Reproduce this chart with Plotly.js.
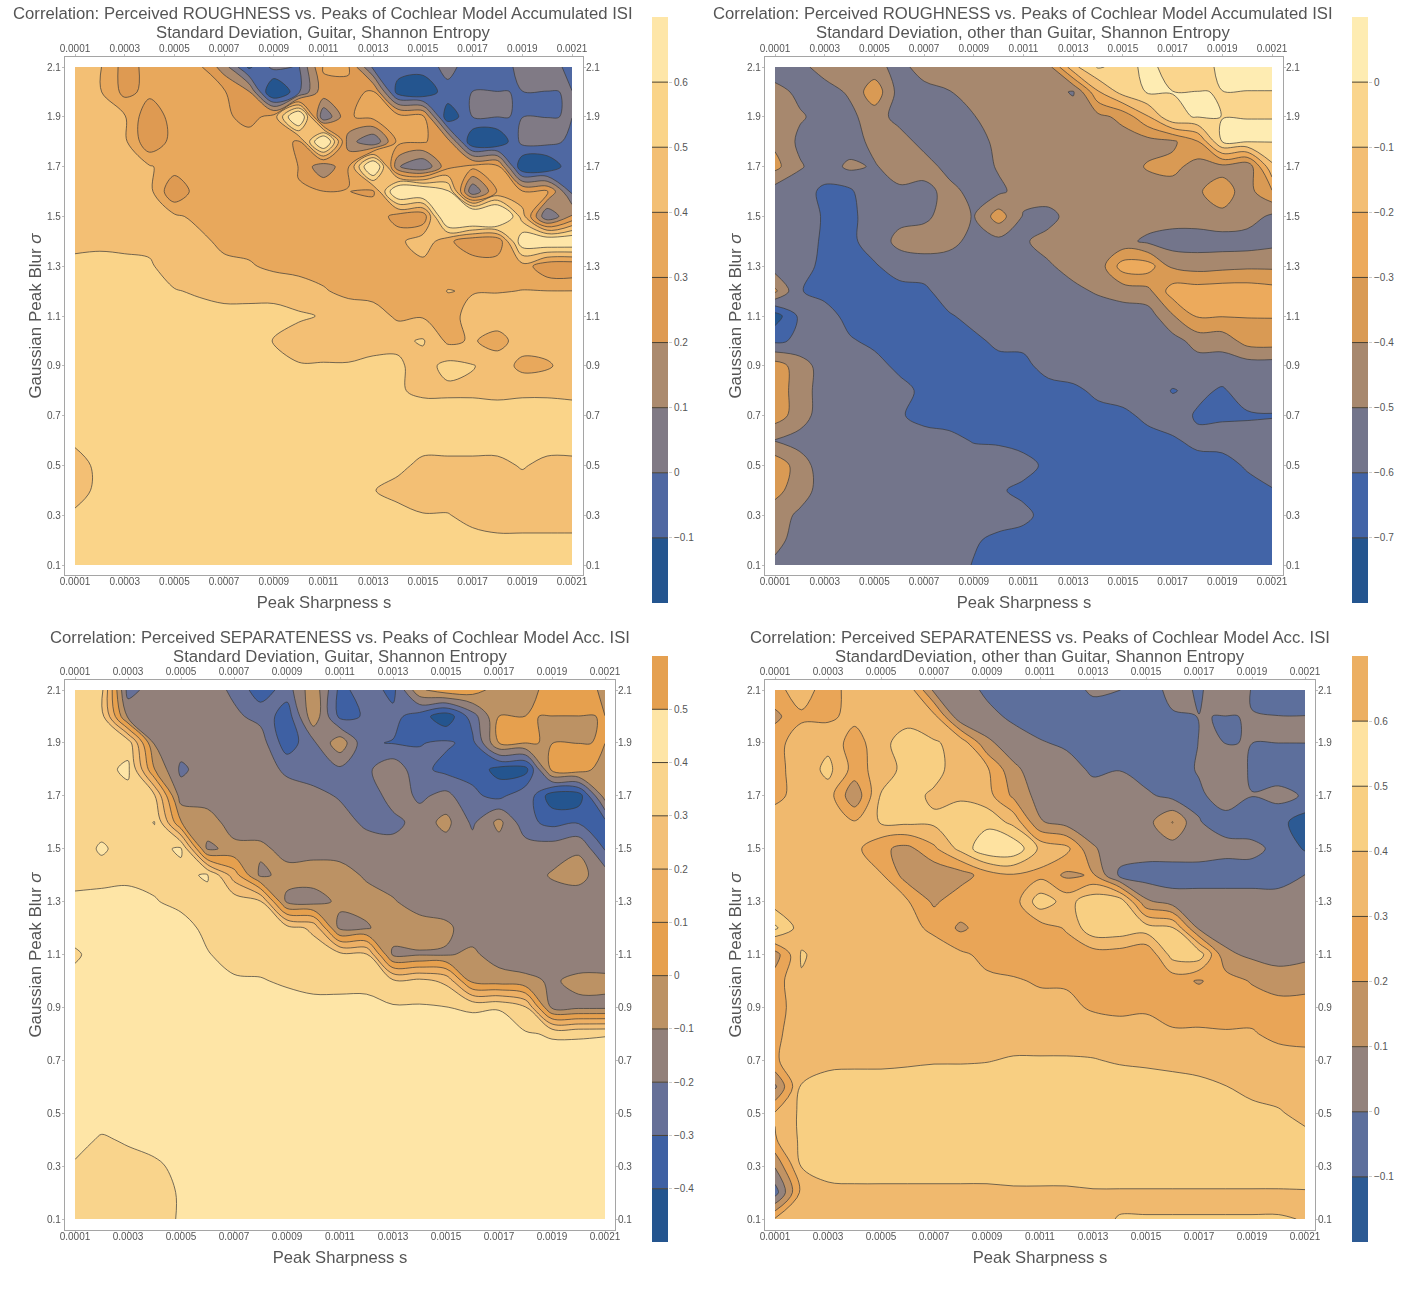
<!DOCTYPE html>
<html>
<head>
<meta charset="utf-8">
<script src="https://cdn.plot.ly/plotly-3.0.1.min.js"></script>
<style>body{margin:0;background:#fff}</style>
</head>
<body>
<div id="chart" style="width:1418px;height:1300px"></div>
<script>
// grid of the four correlation maps
var sharpness = [0.0001,0.0002,0.0003,0.0004,0.0005,0.0006,0.0007,0.0008,0.0009,0.0010,0.0011,0.0012,0.0013,0.0014,0.0015,0.0016,0.0017,0.0018,0.0019,0.0020,0.0021];
var blur = [2.1,2.0,1.9,1.8,1.7,1.6,1.5,1.4,1.3,1.2,1.1,1.0,0.9,0.8,0.7,0.6,0.5,0.4,0.3,0.2,0.1];
var xticks = [0.0001,0.0003,0.0005,0.0007,0.0009,0.0011,0.0013,0.0015,0.0017,0.0019,0.0021];
var xlabels = ['0.0001','0.0003','0.0005','0.0007','0.0009','0.0011','0.0013','0.0015','0.0017','0.0019','0.0021'];
var yticks = [0.1,0.3,0.5,0.7,0.9,1.1,1.3,1.5,1.7,1.9,2.1];
var ylabels = ['0.1','0.3','0.5','0.7','0.9','1.1','1.3','1.5','1.7','1.9','2.1'];

var rough_guitar = [
  [.45,.41,.26,.33,.35,.32,.15,-.12,.03,-.01,.31,.31,-.02,-.05,-.05,.03,-.05,-.05,.03,.03,-.02],
  [.45,.41,.27,.33,.36,.35,.31,.21,-.25,-.02,.27,.28,.31,-.15,-.20,-.03,.001,.001,-.001,-.001,.001],
  [.45,.46,.41,.22,.35,.36,.33,.25,.35,.78,.002,.29,.33,.35,.33,-.18,.001,.001,-.001,-.001,.001],
  [.46,.47,.42,.22,.34,.36,.37,.37,.37,.28,.78,.15,.002,.33,.31,.25,-.20,-.20,.03,.03,-.02],
  [.47,.47,.45,.41,.35,.36,.37,.37,.37,.298,.12,.29,.78,.11,.002,.27,.33,.33,-.20,-.20,-.02],
  [.47,.48,.46,.43,.21,.36,.37,.37,.36,.302,.302,.302,.28,.75,.75,.62,.002,.31,.31,.31,-.02],
  [.48,.49,.48,.45,.42,.37,.37,.37,.37,.37,.37,.37,.38,.25,.22,.80,.85,.85,.45,.002,.21],
  [.48,.48,.48,.48,.46,.43,.37,.37,.36,.35,.35,.35,.35,.37,.47,.33,.21,.21,.68,.72,.72],
  [.52,.53,.52,.51,.46,.47,.43,.41,.38,.36,.36,.36,.36,.37,.36,.37,.37,.37,.36,.22,.21],
  [.54,.54,.54,.53,.505,.49,.47,.47,.47,.46,.41,.37,.36,.36,.36,.402,.395,.395,.402,.402,.402],
  [.53,.53,.53,.53,.53,.53,.53,.53,.53,.51,.495,.47,.45,.38,.39,.37,.43,.46,.46,.46,.46],
  [.54,.54,.54,.54,.54,.54,.54,.54,.495,.47,.47,.47,.47,.48,.51,.38,.41,.36,.45,.45,.45],
  [.54,.54,.54,.54,.54,.54,.54,.54,.54,.505,.505,.505,.52,.515,.46,.53,.505,.46,.37,.385,.45],
  [.55,.55,.55,.55,.55,.55,.55,.55,.55,.55,.55,.55,.55,.51,.48,.48,.48,.47,.48,.48,.47],
  [.55,.55,.55,.55,.55,.55,.55,.55,.55,.55,.55,.55,.55,.55,.55,.55,.55,.55,.55,.55,.55],
  [.52,.55,.55,.55,.55,.55,.55,.55,.55,.55,.55,.55,.55,.55,.55,.55,.55,.55,.55,.55,.55],
  [.45,.53,.55,.55,.55,.55,.55,.55,.55,.55,.55,.55,.55,.53,.47,.47,.47,.47,.51,.47,.47],
  [.45,.53,.55,.55,.55,.55,.55,.55,.55,.55,.55,.55,.505,.46,.45,.45,.45,.45,.45,.45,.45],
  [.52,.55,.55,.55,.55,.55,.55,.55,.55,.55,.55,.55,.55,.54,.505,.505,.47,.45,.45,.45,.45],
  [.55,.55,.55,.55,.55,.55,.55,.55,.55,.55,.55,.55,.55,.55,.55,.55,.53,.52,.52,.52,.52],
  [.56,.56,.56,.56,.56,.56,.56,.56,.56,.56,.56,.56,.56,.56,.56,.56,.56,.56,.56,.56,.56]
];

var rough_other = [
  [-.55,-.52,-.47,-.46,-.47,-.53,-.46,-.45,-.45,-.45,-.46,-.44,-.13,.01,-.03,.02,-.03,-.04,.02,.02,.02],
  [-.47,-.52,-.53,-.49,-.33,-.54,-.53,-.505,-.45,-.45,-.45,-.46,-.51,-.21,-.06,.01,.001,.001,-.001,-.001,-.001],
  [-.47,-.49,-.53,-.52,-.46,-.53,-.55,-.55,-.505,-.45,-.45,-.45,-.45,-.43,-.37,-.21,-.01,.003,-.0002,-.0002,-.0002],
  [-.42,-.52,-.55,-.55,-.47,-.46,-.53,-.55,-.55,-.47,-.45,-.45,-.45,-.45,-.45,-.44,-.42,-.31,.002,.002,.002],
  [-.37,-.49,-.55,-.48,-.51,-.45,-.46,-.53,-.55,-.49,-.45,-.45,-.45,-.45,-.45,-.39,-.37,-.44,-.43,-.48,-.12],
  [-.55,-.56,-.62,-.62,-.505,-.52,-.53,-.47,-.53,-.52,-.46,-.45,-.45,-.45,-.45,-.45,-.45,-.41,-.36,-.44,-.31],
  [-.55,-.55,-.61,-.62,-.56,-.53,-.52,-.46,-.505,-.35,-.51,-.53,-.46,-.45,-.45,-.45,-.45,-.45,-.42,-.45,-.52],
  [-.54,-.54,-.62,-.62,-.56,-.47,-.45,-.47,-.53,-.53,-.51,-.47,-.45,-.45,-.47,-.52,-.55,-.55,-.55,-.55,-.53],
  [-.55,-.57,-.62,-.63,-.61,-.56,-.55,-.55,-.54,-.54,-.54,-.51,-.47,-.46,-.25,-.25,-.42,-.44,-.43,-.42,-.42],
  [-.38,-.595,-.63,-.63,-.63,-.63,-.62,-.55,-.54,-.54,-.54,-.54,-.52,-.49,-.46,-.43,-.25,-.25,-.24,-.24,-.26],
  [-.75,-.58,-.56,-.63,-.63,-.63,-.63,-.61,-.57,-.55,-.55,-.55,-.55,-.55,-.55,-.55,-.41,-.29,-.295,-.295,-.295],
  [-.62,-.58,-.56,-.59,-.62,-.62,-.62,-.62,-.62,-.58,-.58,-.55,-.55,-.55,-.55,-.55,-.54,-.46,-.46,-.36,-.35],
  [-.35,-.45,-.55,-.56,-.57,-.62,-.63,-.63,-.63,-.63,-.62,-.57,-.55,-.55,-.55,-.55,-.55,-.55,-.55,-.55,-.55],
  [-.34,-.45,-.55,-.56,-.56,-.57,-.62,-.63,-.63,-.63,-.63,-.63,-.62,-.58,-.56,-.55,-.605,-.58,-.61,-.56,-.55],
  [-.35,-.45,-.56,-.56,-.56,-.59,-.63,-.63,-.63,-.63,-.63,-.63,-.63,-.63,-.62,-.58,-.56,-.61,-.61,-.61,-.605],
  [-.505,-.54,-.56,-.56,-.56,-.56,-.56,-.58,-.605,-.61,-.63,-.63,-.63,-.63,-.63,-.63,-.61,-.58,-.57,-.56,-.56],
  [-.33,-.45,-.56,-.56,-.56,-.56,-.56,-.56,-.56,-.56,-.57,-.62,-.63,-.63,-.63,-.63,-.63,-.63,-.63,-.59,-.56],
  [-.37,-.45,-.55,-.55,-.55,-.55,-.55,-.55,-.56,-.59,-.62,-.63,-.63,-.63,-.63,-.63,-.63,-.63,-.63,-.63,-.605],
  [-.45,-.52,-.56,-.56,-.56,-.56,-.56,-.56,-.56,-.56,-.58,-.63,-.63,-.63,-.63,-.63,-.63,-.63,-.63,-.63,-.63],
  [-.47,-.54,-.56,-.56,-.56,-.56,-.56,-.56,-.59,-.62,-.63,-.63,-.63,-.63,-.63,-.63,-.63,-.63,-.63,-.63,-.63],
  [-.52,-.56,-.56,-.56,-.56,-.56,-.56,-.56,-.605,-.63,-.63,-.63,-.63,-.63,-.63,-.63,-.63,-.63,-.63,-.63,-.63]
];

var sep_guitar = [
  [.35,.33,-.24,-.15,-.15,-.15,-.22,-.36,-.25,-.03,-.33,-.25,-.33,-.02,.06,.05,-.05,-.05,.05,.05,-.02],
  [.36,.34,-.12,-.15,-.15,-.15,-.18,-.23,-.36,-.03,-.33,-.29,-.27,-.35,-.47,-.25,.001,.001,-.001,-.001,.0005],
  [.36,.35,.36,-.11,-.15,-.15,-.15,-.15,-.36,-.22,-.03,-.29,-.305,-.305,-.285,-.33,.001,.001,-.001,-.001,.001],
  [.37,.37,.42,.002,-.22,-.15,-.15,-.15,-.22,-.25,-.22,-.22,-.13,-.27,-.33,-.33,-.44,-.44,.03,.05,-.05],
  [.37,.37,.37,.31,-.15,-.15,-.15,-.15,-.15,-.17,-.21,-.29,-.14,-.22,-.17,-.28,-.33,-.22,-.46,-.46,-.05],
  [.37,.37,.37,.402,.002,-.05,-.15,-.15,-.15,-.15,-.16,-.22,-.24,-.15,-.07,-.22,-.07,-.27,-.33,-.31,-.33],
  [.36,.41,.37,.38,.41,-.12,-.07,-.08,-.13,-.13,-.13,-.15,-.15,-.15,-.15,-.15,-.15,-.15,-.15,-.11,-.31],
  [.37,.37,.38,.38,.38,.41,.15,-.12,-.07,-.06,-.07,-.11,-.15,-.15,-.15,-.15,-.15,-.15,-.09,-.07,-.15],
  [.42,.43,.43,.405,.38,.37,.36,.31,-.12,-.14,-.08,-.07,-.09,-.15,-.15,-.15,-.15,-.15,-.15,-.15,-.15],
  [.43,.44,.44,.44,.43,.38,.37,.37,.34,.28,-.13,-.11,-.05,-.05,-.08,-.15,-.15,-.15,-.15,-.15,-.15],
  [.39,.43,.44,.44,.42,.405,.37,.37,.36,.35,.33,.31,-.12,-.11,-.11,-.08,-.15,-.15,-.15,-.15,-.15],
  [.42,.43,.43,.43,.43,.42,.41,.405,.39,.38,.38,.39,.32,.33,.28,-.03,-.05,-.08,-.11,-.08,-.08],
  [.43,.43,.43,.43,.43,.43,.43,.43,.43,.42,.42,.41,.41,.41,.402,.39,.395,.31,-.12,-.12,-.12],
  [.44,.44,.44,.44,.44,.44,.44,.44,.44,.44,.44,.44,.44,.44,.44,.44,.44,.41,.39,.39,.395],
  [.44,.44,.44,.44,.44,.44,.44,.44,.44,.44,.44,.44,.44,.44,.44,.44,.44,.44,.44,.44,.44],
  [.44,.44,.44,.44,.44,.44,.44,.44,.44,.44,.44,.44,.44,.44,.44,.44,.44,.44,.44,.44,.44],
  [.44,.44,.44,.44,.44,.44,.44,.44,.44,.44,.44,.44,.44,.44,.44,.44,.44,.44,.44,.44,.44],
  [.43,.39,.41,.44,.44,.44,.44,.44,.44,.44,.44,.44,.44,.44,.44,.44,.44,.44,.44,.44,.44],
  [.39,.37,.37,.38,.43,.44,.44,.44,.44,.44,.44,.44,.44,.44,.44,.44,.44,.44,.44,.44,.44],
  [.36,.36,.36,.36,.41,.44,.44,.44,.44,.44,.44,.44,.44,.44,.44,.44,.44,.44,.44,.44,.44],
  [.36,.36,.36,.36,.41,.44,.44,.44,.44,.44,.44,.44,.44,.44,.44,.44,.44,.44,.44,.44,.44]
];

var sep_other = [
  [.28,.33,.27,.33,.34,.37,.08,.05,-.02,-.05,-.05,-.05,.02,.002,-.05,.03,-.01,.05,-.003,-.03,-.03],
  [.17,.29,.28,.33,.35,.36,.33,.02,.03,-.02,-.06,-.06,-.06,-.06,-.06,-.01,.001,-.001,.001,.001,.001],
  [.28,.33,.37,.25,.37,.45,.41,.37,.12,.05,.01,-.02,-.05,-.05,-.05,-.05,.002,-.0002,.0002,.0002,.0002],
  [.28,.33,.43,.26,.34,.44,.44,.34,.32,.12,.05,.05,-.02,-.003,-.05,-.05,.01,.05,-.01,-.05,-.03],
  [.28,.33,.35,.12,.41,.44,.38,.39,.34,.18,.06,.05,.05,.05,.02,-.03,-.02,.05,.002,.03,-.01],
  [.34,.35,.35,.31,.41,.42,.42,.44,.47,.37,.11,.06,.05,.05,.06,.205,.005,-.04,-.06,-.07,-.15],
  [.33,.33,.34,.33,.22,.17,.28,.43,.58,.58,.38,.33,.11,.05,.05,.05,.05,.03,.03,-.03,-.11],
  [.33,.33,.33,.33,.31,.15,.12,.15,.25,.29,.27,.18,.21,-.02,-.05,-.05,-.05,-.05,-.05,-.05,.002],
  [.35,.33,.33,.33,.33,.31,.18,.27,.25,.25,.46,.36,.47,.47,.12,.05,.05,.05,.05,.05,.05],
  [.52,.35,.33,.33,.33,.33,.28,.18,.25,.25,.25,.31,.47,.47,.45,.41,.08,.05,.05,.05,.05],
  [.15,.41,.36,.35,.35,.35,.35,.32,.27,.25,.25,.25,.25,.25,.21,.44,.46,.12,.08,.06,.08],
  [.25,.39,.34,.34,.34,.34,.33,.33,.32,.31,.29,.29,.27,.26,.27,.24,.19,.25,.19,.15,.15],
  [.27,.34,.34,.34,.34,.34,.34,.34,.34,.34,.33,.32,.29,.28,.29,.27,.27,.25,.26,.24,.25],
  [.28,.35,.35,.35,.35,.35,.35,.35,.35,.35,.35,.35,.35,.34,.33,.31,.31,.31,.31,.27,.27],
  [.29,.35,.36,.37,.37,.38,.39,.39,.395,.41,.41,.41,.405,.39,.38,.37,.37,.37,.36,.35,.33],
  [.08,.41,.46,.46,.46,.46,.46,.46,.46,.46,.46,.46,.46,.45,.45,.44,.42,.402,.37,.36,.34],
  [.31,.42,.46,.46,.46,.46,.46,.46,.46,.46,.46,.46,.46,.46,.46,.46,.46,.46,.43,.41,.37],
  [.29,.42,.46,.46,.46,.46,.46,.46,.46,.46,.46,.46,.46,.46,.46,.46,.46,.46,.46,.46,.43],
  [.11,.405,.46,.46,.46,.46,.46,.46,.46,.46,.46,.46,.46,.46,.46,.46,.46,.46,.46,.46,.44],
  [-.05,.33,.36,.37,.37,.37,.37,.37,.37,.38,.38,.38,.39,.39,.39,.39,.39,.39,.39,.39,.395],
  [.31,.36,.36,.36,.36,.36,.36,.36,.36,.36,.36,.36,.39,.402,.402,.402,.402,.402,.402,.402,.399]
];

// contour levels and band colours, bottom band first
var levels1 = [-.1,0,.1,.2,.3,.4,.5,.6];
var levels2 = [-.7,-.6,-.5,-.4,-.3,-.2,-.1,0];
var levels3 = [-.4,-.3,-.2,-.1,0,.1,.2,.3,.4,.5];
var levels4 = [-.1,0,.1,.2,.3,.4,.5,.6];
var colors1 = ['#24558f','#4f68a2','#807a85','#ab8a6e','#de9a52','#e8a85c','#f3bf74','#fad489','#fee6a8'];
var colors2 = ['#24558f','#4264a7','#73758b','#a7886e','#d99a54','#ecaa5c','#f3be74','#fad58d','#feecb2'];
var colors3 = ['#24558f','#3e60a3','#667098','#92807a','#bc9264','#e6a04e','#edb065','#f3c078','#f9d48c','#fee5a6','#e5a050'];
var colors4 = ['#2c5a94','#5d6f9c','#93827c','#c19364','#e9a557','#f0b96e','#f8cf82','#fee2a0','#ecaf62'];

var W = 1418, H = 1300;
var panels = [
  {z: rough_guitar, levels: levels1, colors: colors1, bar: [-.2,.7],
   title1: 'Correlation: Perceived ROUGHNESS vs. Peaks of Cochlear Model Accumulated ISI',
   title2: 'Standard Deviation, Guitar, Shannon Entropy',
   titlex: 323, titley: [14,33], frame: [65,583,57,575], data: [75,572,67,565], barbox: [652,668,17,603]},
  {z: rough_other, levels: levels2, colors: colors2, bar: [-.8,.1],
   title1: 'Correlation: Perceived ROUGHNESS vs. Peaks of Cochlear Model Accumulated ISI',
   title2: 'Standard Deviation, other than Guitar, Shannon Entropy',
   titlex: 1023, titley: [14,33], frame: [765,1283,57,575], data: [775,1272,67,565], barbox: [1352,1368,17,603]},
  {z: sep_guitar, levels: levels3, colors: colors3, bar: [-.5,.6],
   title1: 'Correlation: Perceived SEPARATENESS vs. Peaks of Cochlear Model Acc. ISI',
   title2: 'Standard Deviation, Guitar, Shannon Entropy',
   titlex: 340, titley: [637,656], frame: [65,615,680,1230], data: [75,605,690,1219], barbox: [652,668,656,1242]},
  {z: sep_other, levels: levels4, colors: colors4, bar: [-.2,.7],
   title1: 'Correlation: Perceived SEPARATENESS vs. Peaks of Cochlear Model Acc. ISI',
   title2: 'StandardDeviation, other than Guitar, Shannon Entropy',
   titlex: 1040, titley: [637,656], frame: [765,1315,680,1230], data: [775,1305,690,1219], barbox: [1352,1368,656,1242]}
];

var FONT = 'Liberation Sans, Arial, sans-serif';
var TICKFONT = {family: FONT, size: 10, color: '#555'};
var plot_data = [];
var layout = {
  width: W, height: H,
  margin: {l: 0, r: 0, t: 0, b: 0},
  paper_bgcolor: '#fff', plot_bgcolor: '#fff',
  showlegend: false, barmode: 'overlay', hovermode: false,
  annotations: []
};

function xname(n) { return n == 1 ? 'xaxis' : 'xaxis' + n; }
function yname(n) { return n == 1 ? 'yaxis' : 'yaxis' + n; }
function xref(n) { return n == 1 ? 'x' : 'x' + n; }
function yref(n) { return n == 1 ? 'y' : 'y' + n; }

for (let k = 0; k < panels.length; k++) {
  var p = panels[k];
  var b = k * 3 + 1;

  // frame is wider than the data, so the axis range is padded
  var sx = (2.1 - 0.1) * 0.001 / (p.data[1] - p.data[0]);
  var sy = (2.1 - 0.1) / (p.data[3] - p.data[2]);
  var xrange = [0.0001 - (p.data[0] - p.frame[0]) * sx, 0.0021 + (p.frame[1] - p.data[1]) * sx];
  var yrange = [0.1 - (p.frame[3] - p.data[3]) * sy, 2.1 + (p.data[2] - p.frame[2]) * sy];
  var xdom = [p.frame[0] / W, p.frame[1] / W];
  var ydom = [1 - p.frame[3] / H, 1 - p.frame[2] / H];

  var n = p.colors.length - 1;
  var scale = p.colors.map(function(c, i) { return [i / n, c]; });

  plot_data.push({
    type: 'contour', x: sharpness, y: blur, z: p.z,
    xaxis: xref(b), yaxis: yref(b),
    autocontour: false,
    contours: {start: p.levels[0], end: p.levels[p.levels.length - 1], size: 0.1, coloring: 'fill', showlines: true},
    line: {color: '#3a3a3a', width: 0.7, smoothing: 1},
    colorscale: scale, showscale: false, hoverinfo: 'skip'
  });

  // empty trace so the top and right axes get drawn
  plot_data.push({
    type: 'scatter', mode: 'markers', x: xticks, y: yticks, opacity: 0,
    xaxis: xref(b + 1), yaxis: yref(b + 1), hoverinfo: 'skip'
  });

  var tickstyle = {
    tickmode: 'array', ticks: 'outside', ticklen: 2, tickwidth: 1, tickcolor: '#bbb',
    tickfont: TICKFONT, showgrid: false, zeroline: false, fixedrange: true
  };
  layout[xname(b)] = Object.assign({}, tickstyle, {
    domain: xdom, range: xrange, anchor: yref(b), side: 'bottom',
    tickvals: xticks, ticktext: xlabels, ticklabelstandoff: -5,
    showline: true, mirror: true, linecolor: '#a5a5a5', linewidth: 1.2,
    title: {text: 'Peak Sharpness s', font: {family: FONT, size: 16.6, color: '#555'}, standoff: 10}
  });
  layout[yname(b)] = Object.assign({}, tickstyle, {
    domain: ydom, range: yrange, anchor: xref(b), side: 'left',
    tickvals: yticks, ticktext: ylabels, ticklabelstandoff: -1,
    showline: true, mirror: true, linecolor: '#a5a5a5', linewidth: 1.2,
    title: {text: 'Gaussian Peak Blur <i>σ</i>', font: {family: FONT, size: 17, color: '#555'}, standoff: 1}
  });
  layout[xname(b + 1)] = Object.assign({}, tickstyle, {
    range: xrange, overlaying: xref(b), anchor: yref(b), side: 'top',
    tickvals: xticks, ticktext: xlabels, ticklabelstandoff: -2
  });
  layout[yname(b + 1)] = Object.assign({}, tickstyle, {
    range: yrange, overlaying: yref(b), anchor: xref(b), side: 'right',
    tickvals: yticks, ticktext: ylabels, ticklabelstandoff: -2
  });

  // colour legend: one bar per band, with a dark rule at each level
  var edges = [p.bar[0]].concat(p.levels, [p.bar[1]]);
  var heights = [], bases = [], zeros = [];
  for (let i = 0; i < p.colors.length; i++) {
    bases.push(edges[i]);
    heights.push(edges[i + 1] - edges[i]);
    zeros.push(0);
  }
  plot_data.push({
    type: 'bar', x: zeros, y: heights, base: bases, width: 1,
    marker: {color: p.colors, line: {width: 0}},
    xaxis: xref(b + 2), yaxis: yref(b + 2), hoverinfo: 'skip'
  });
  var rx = [], ry = [];
  for (let i = 0; i < p.levels.length; i++) {
    rx.push(-0.5, 0.5, null);
    ry.push(p.levels[i], p.levels[i], null);
  }
  plot_data.push({
    type: 'scatter', mode: 'lines', x: rx, y: ry,
    line: {color: '#4a4030', width: 1},
    xaxis: xref(b + 2), yaxis: yref(b + 2), hoverinfo: 'skip'
  });
  layout[xname(b + 2)] = {
    domain: [p.barbox[0] / W, p.barbox[1] / W], range: [-0.5, 0.5], anchor: yref(b + 2),
    visible: false, fixedrange: true
  };
  layout[yname(b + 2)] = {
    domain: [1 - p.barbox[3] / H, 1 - p.barbox[2] / H], range: p.bar, anchor: xref(b + 2), side: 'right',
    tickmode: 'array', tickvals: p.levels, ticktext: p.levels.map(function(v) { return v < 0 ? '\u2212' + Math.abs(v) : String(v); }),
    ticks: 'outside', ticklen: 3, tickwidth: 1, tickcolor: '#ccc', tickfont: TICKFONT,
    showgrid: false, zeroline: false, showline: false, fixedrange: true
  };

  var lines = [p.title1, p.title2];
  for (let i = 0; i < 2; i++) {
    layout.annotations.push({
      text: lines[i], showarrow: false, xref: 'paper', yref: 'paper',
      x: p.titlex / W, y: 1 - p.titley[i] / H, xanchor: 'center', yanchor: 'middle',
      font: {family: FONT, size: 16.7, color: '#555'}
    });
  }
}

Plotly.newPlot('chart', plot_data, layout, {displayModeBar: false, staticPlot: true});
</script>
</body>
</html>
